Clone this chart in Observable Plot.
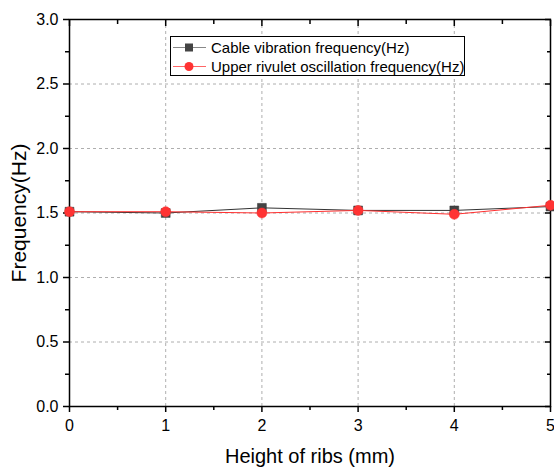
<!DOCTYPE html>
<html><head><meta charset="utf-8">
<script src="https://cdn.jsdelivr.net/npm/d3@7"></script>
<script src="https://cdn.jsdelivr.net/npm/@observablehq/plot@0.6"></script>
<style>
body{margin:0;background:#fff;font-family:"Liberation Sans",Arial,sans-serif;}
#wrap{position:relative;width:554px;height:468px;overflow:hidden;}
#wrap svg{overflow:visible}
.legend{position:absolute;left:170px;top:36px;width:295px;height:40px;border:1px solid #000;background:#fff;box-sizing:border-box;font-size:15px;color:#000;}
.row{position:absolute;left:0;height:19px;display:flex;align-items:center;white-space:nowrap}
.row svg{margin-right:4px}
</style></head><body><div id="wrap"></div>
<script>
const heights = [0, 1, 2, 3, 4, 5];
const cableFreq = [1.51, 1.50, 1.54, 1.52, 1.52, 1.55];
const rivuletFreq = [1.51, 1.51, 1.50, 1.52, 1.49, 1.56];
const seriesNames = ["Cable vibration frequency(Hz)", "Upper rivulet oscillation frequency(Hz)"];
const xMajor = [0, 1, 2, 3, 4, 5];
const xMinor = [0.5, 1.5, 2.5, 3.5, 4.5];
const yMajor = [0, 0.5, 1.0, 1.5, 2.0, 2.5, 3.0];
const yMinor = [0.25, 0.75, 1.25, 1.75, 2.25, 2.75];
const xTitle = "Height of ribs (mm)";
const yTitle = "Frequency(Hz)";

const cable = heights.map((h, i) => ({h, f: cableFreq[i]}));
const rivulet = heights.map((h, i) => ({h, f: rivuletFreq[i]}));
const blank = () => "";

const chart = Plot.plot({
  width: 554, height: 468,
  marginLeft: 69, marginRight: 4, marginTop: 19, marginBottom: 62,
  x: {domain: [0, 5]},
  y: {domain: [0, 3]},
  style: {fontFamily: '"Liberation Sans", Arial, sans-serif', fontSize: "16px", color: "#000", background: "transparent"},
  marks: [
    Plot.gridX({ticks: [1, 2, 3, 4], stroke: "#999", strokeOpacity: 1, strokeDasharray: "3,3", strokeWidth: 0.8}),
    Plot.gridY({ticks: [0.5, 1, 1.5, 2, 2.5], stroke: "#999", strokeOpacity: 1, strokeDasharray: "3,3", strokeWidth: 0.8}),
    Plot.frame({stroke: "#000", strokeWidth: 1.5}),
    Plot.axisX({ticks: xMajor, tickSize: 6, tickPadding: 7, tickFormat: d => String(d), label: null, strokeWidth: 1.5}),
    Plot.axisX({ticks: xMinor, tickSize: 4, tickFormat: blank, label: null, strokeWidth: 1.5}),
    Plot.axisX({anchor: "top", ticks: xMajor, tickSize: -6, tickFormat: blank, label: null, strokeWidth: 1.5}),
    Plot.axisX({anchor: "top", ticks: xMinor, tickSize: -4, tickFormat: blank, label: null, strokeWidth: 1.5}),
    Plot.axisY({ticks: yMajor, tickSize: 6, tickPadding: 5, tickFormat: d3.format(".1f"), label: null, strokeWidth: 1.5}),
    Plot.axisY({ticks: yMinor, tickSize: 4, tickFormat: blank, label: null, strokeWidth: 1.5}),
    Plot.axisY({anchor: "right", ticks: yMajor, tickSize: -6, tickFormat: blank, label: null, strokeWidth: 1.5}),
    Plot.axisY({anchor: "right", ticks: yMinor, tickSize: -4, tickFormat: blank, label: null, strokeWidth: 1.5}),
    Plot.line(cable, {x: "h", y: "f", stroke: "#333", strokeWidth: 1}),
    Plot.line(rivulet, {x: "h", y: "f", stroke: "#ff3030", strokeWidth: 1}),
    Plot.dot(cable, {x: "h", y: "f", symbol: "square", r: 5, fill: "#444", stroke: "#333", strokeWidth: 0.5}),
    Plot.dot(rivulet, {x: "h", y: "f", symbol: "circle", r: 5, fill: "#ff3333", stroke: "#ff3333", strokeWidth: 0.5}),
    Plot.text([xTitle], {text: d => d, frameAnchor: "bottom", lineAnchor: "middle", textAnchor: "middle", dy: 50, fontSize: 20, fill: "#000"}),
    Plot.text([yTitle], {text: d => d, frameAnchor: "left", lineAnchor: "middle", textAnchor: "middle", dx: -50, rotate: -90, fontSize: 21, fill: "#000"})
  ]
});
const wrap = document.getElementById("wrap");
wrap.appendChild(chart);

const legend = document.createElement("div");
legend.className = "legend";
const specs = [
  {name: seriesNames[0], line: "#888", fill: "#444", shape: "square"},
  {name: seriesNames[1], line: "#ff6666", fill: "#ff3333", shape: "circle"}
];
specs.forEach((s, i) => {
  const row = document.createElement("div");
  row.className = "row";
  row.style.top = (i === 0 ? 1 : 20) + "px";
  const marker = s.shape === "square"
    ? `<rect x="14" y="5.5" width="8" height="8" fill="${s.fill}"/>`
    : `<circle cx="18" cy="9.5" r="4.5" fill="${s.fill}"/>`;
  row.innerHTML = `<svg width="36" height="19"><line x1="2" x2="35" y1="9.5" y2="9.5" stroke="${s.line}" stroke-width="1"/>${marker}</svg><span>${s.name}</span>`;
  legend.appendChild(row);
});
wrap.appendChild(legend);
</script>
</body></html>
